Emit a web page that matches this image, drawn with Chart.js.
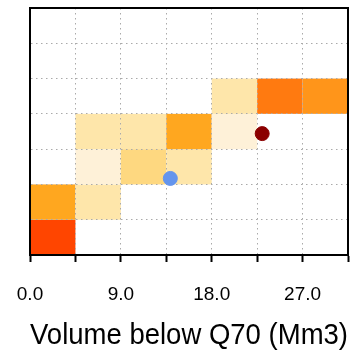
<!DOCTYPE html>
<html>
<head>
<meta charset="utf-8">
<script src="https://cdn.jsdelivr.net/npm/chart.js@4/dist/chart.umd.min.js"></script>
<style>
html,body{margin:0;padding:0;background:#fff;}
#wrap{width:356px;height:352px;}
</style>
</head>
<body>
<div id="wrap"><canvas id="c" width="356" height="352"></canvas></div>
<script>
// Heatmap cells: left edge of x bin, row index, intensity level
const cellX = [0, 0, 4.5, 4.5, 9, 13.5, 4.5, 9, 13.5, 18, 18, 22.5, 27];
const cellY = [0, 1, 1, 2, 2, 2, 3, 3, 3, 3, 4, 4, 4];
const cellLevel = [7, 4, 2, 1, 3, 2, 2, 2, 4, 1, 2, 6, 5];
const binWidth = 4.5;
const binHeight = 1;
// Points
const pointBlue = [{x: 13.9, y: 2.17}];
const pointRed = [{x: 23.0, y: 3.44}];
const xTicks = [0, 9, 18, 27];

const levelColors = {1:'#FEF1D8',2:'#FEE6AA',3:'#FED880',4:'#FFA71F',5:'#FF951A',6:'#FF7A10',7:'#FF4500'};
const FONT = "'Liberation Sans', Arial, sans-serif";

const cellPlugin = {
  id: 'cells',
  beforeDraw(chart) {
    const {ctx, scales:{x, y}} = chart;
    ctx.save();
    for (let i = 0; i < cellX.length; i++) {
      const x0 = x.getPixelForValue(cellX[i]);
      const x1 = x.getPixelForValue(cellX[i] + binWidth);
      const y0 = y.getPixelForValue(cellY[i]);
      const y1 = y.getPixelForValue(cellY[i] + binHeight);
      ctx.fillStyle = levelColors[cellLevel[i]];
      ctx.fillRect(x0, y1, x1 - x0, y0 - y1);
    }
    ctx.restore();
  },
  afterDraw(chart) {
    const {ctx, chartArea:a} = chart;
    ctx.save();
    ctx.strokeStyle = '#000';
    ctx.lineWidth = 2;
    ctx.strokeRect(a.left, a.top, a.right - a.left, a.bottom - a.top);
    ctx.restore();
  }
};

new Chart(document.getElementById('c'), {
  type: 'scatter',
  data: {
    datasets: [
      {data: pointBlue, backgroundColor: '#6495ED', borderColor: '#6495ED', pointRadius: 7, pointHoverRadius: 7},
      {data: pointRed, backgroundColor: '#8B0000', borderColor: '#8B0000', pointRadius: 7, pointHoverRadius: 7}
    ]
  },
  options: {
    responsive: false,
    animation: false,
    events: [],
    layout: {padding: {left: 30, right: 7, top: 7, bottom: 1}},
    plugins: {legend: {display: false}, tooltip: {enabled: false}},
    scales: {
      x: {
        type: 'linear', min: 0, max: 31.5,
        afterBuildTicks(s) { s.ticks = []; for (let v = 0; v <= 31.5 + 1e-9; v += binWidth) s.ticks.push({value: Math.round(v*10)/10}); },
        afterFit(s) { s.height = 96; s.paddingLeft = 0; s.paddingRight = 0; },
        ticks: {
          autoSkip: false, maxRotation: 0, color: '#000', padding: 21,
          font: {family: FONT, size: 19},
          callback: (v) => xTicks.some(t => Math.abs(t - v) < 1e-6) ? v.toFixed(1) : ''
        },
        grid: {color: '#AAAAAA', lineWidth: 1, tickColor: '#000', tickWidth: 2, tickLength: 7},
        border: {color: '#000', width: 2, dash: [1.5, 3.5]},
        title: {display: true, text: 'Volume below Q70 (Mm3)', color: '#000',
          font: {family: FONT, size: 29.5}, padding: {top: 0, bottom: -3}}
      },
      y: {
        type: 'linear', min: 0, max: 7,
        afterFit(s) { s.width = 0; s.paddingTop = 0; s.paddingBottom = 0; },
        ticks: {display: false, stepSize: 1},
        grid: {color: '#AAAAAA', lineWidth: 1, drawTicks: false},
        border: {color: '#000', width: 2, dash: [1.5, 3.5]}
      }
    }
  },
  plugins: [cellPlugin]
});
</script>
</body>
</html>
